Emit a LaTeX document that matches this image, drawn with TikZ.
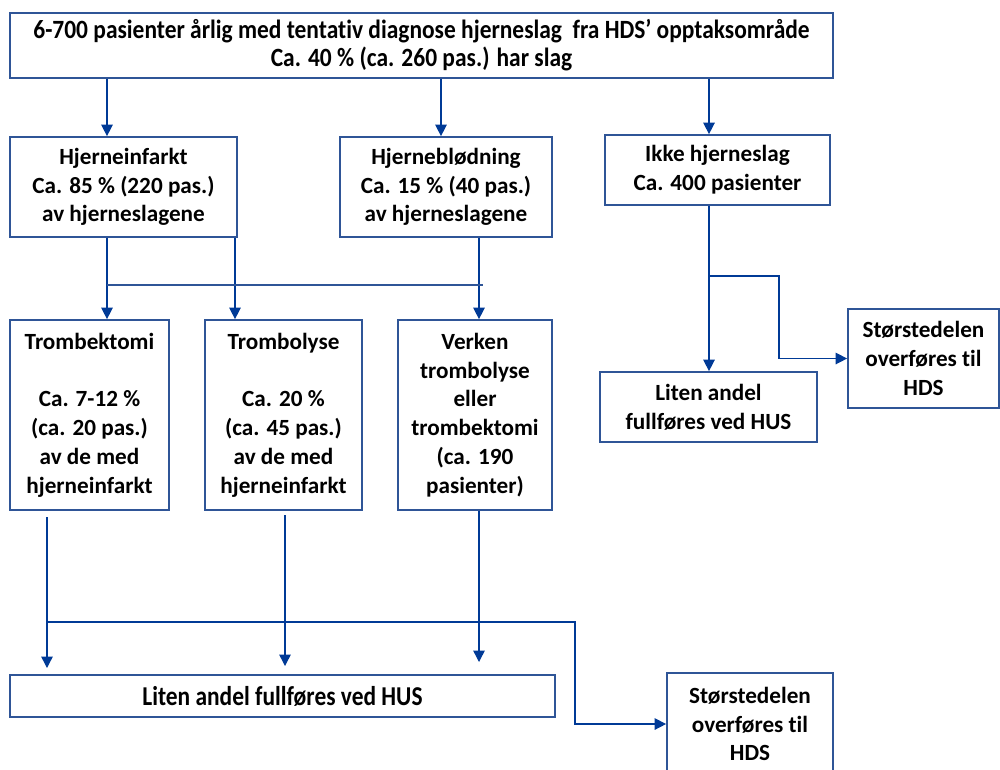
\documentclass[tikz,border=0pt]{standalone}
\usepackage{fontspec}
\setmainfont{Carlito}[Ligatures={NoCommon}]
\newfontfamily\condfont{Carlito}[FakeStretch=0.89,Ligatures={NoCommon}]
\newfontfamily\condfontb{Carlito}[FakeStretch=0.86,Ligatures={NoCommon}]
\usetikzlibrary{arrows.meta}
\definecolor{boxc}{HTML}{2F5597}
\definecolor{lightc}{HTML}{7F9FD6}
\definecolor{darkc}{HTML}{2F5597}
\definecolor{tipc}{HTML}{003A96}
\newcommand\uu{0.02cm}
\tikzset{
  box/.style={draw=boxc, line width=1pt, rectangle, inner sep=0pt, align=center,
    font=\bfseries\fontsize{13.2}{16.4}\selectfont},
  condbox/.style={box, font=\condfont\bfseries\fontsize{15}{16}\selectfont},
  arr/.style={-{Triangle[width=6.5pt,length=6.5pt,fill=tipc]}, tipc},
  lt/.style={draw=lightc, line width=0.8pt, arr},
  dk/.style={draw=darkc, line width=0.8pt, arr},
  hl/.style={draw=darkc, line width=0.8pt},
}
\begin{document}
\begin{tikzpicture}[x=0.02cm,y=-0.02cm]
\useasboundingbox (0,0) rectangle (1000,769);
\node[condbox, minimum width={823*\uu}, minimum height={65*\uu}] (top) at (421.5,45.5)
  {6-700 pasienter årlig med tentativ diagnose hjerneslag\ \ fra HDS’ opptaksområde\\Ca. 40 \% (ca. 260 pas.) har slag};
\node[box, minimum width={227*\uu}, minimum height={100*\uu}] (inf) at (123.5,187)
  {Hjerneinfarkt\\Ca. 85 \% (220 pas.)\\av hjerneslagene};
\node[box, minimum width={212*\uu}, minimum height={100*\uu}] (blod) at (446,187)
  {Hjerneblødning\\Ca. 15 \% (40 pas.)\\av hjerneslagene};
\node[box, minimum width={225*\uu}, minimum height={70*\uu}] (ikke) at (717.5,170)
  {Ikke hjerneslag\\Ca. 400 pasienter};
\node[box, minimum width={159*\uu}, minimum height={190*\uu}] (tbek) at (89.5,415)
  {Trombektomi\\[16.4pt]Ca. 7-12 \%\\(ca. 20 pas.)\\av de med\\hjerneinfarkt};
\node[box, minimum width={157*\uu}, minimum height={190*\uu}] (tlys) at (283.5,415)
  {Trombolyse\\[16.4pt]Ca. 20 \%\\(ca. 45 pas.)\\av de med\\hjerneinfarkt};
\node[box, minimum width={154*\uu}, minimum height={190*\uu}] (verk) at (475,415)
  {Verken\\trombolyse\\eller\\trombektomi\\(ca. 190\\pasienter)};
\node[box, minimum width={217*\uu}, minimum height={70*\uu}] (litenR) at (708.5,407)
  {Liten andel\\fullføres ved HUS};
\node[box, minimum width={151*\uu}, minimum height={99*\uu}] (storR) at (923.5,358.5)
  {Størstedelen\\overføres til\\HDS};
\node[box, font=\condfontb\bfseries\fontsize{15.5}{16}\selectfont,
  minimum width={545*\uu}, minimum height={42*\uu}] (litenB) at (282.5,696)
  {Liten andel fullføres ved HUS};
\node[box, minimum width={166*\uu}, minimum height={102*\uu}] (storB) at (750,724)
  {Størstedelen\\overføres til\\HDS};
% top connectors
\draw[lt] (107,0 |- top.south) -- (107,0 |- inf.north);
\draw[lt] (441,0 |- top.south) -- (441,0 |- blod.north);
\draw[dk] (709,0 |- top.south) -- (709,0 |- ikke.north);
% middle
\draw[lt] (107,0 |- inf.south) -- (107,0 |- tbek.north);
\draw[lt] (235,0 |- inf.south) -- (235,0 |- tlys.north);
\draw[lt] (479,0 |- blod.south) -- (479,0 |- verk.north);
\coordinate (h1) at (107,285);
\coordinate (h2) at (483,285);
\draw[hl] (h1) -- (h2);
% right branch
\draw[dk] (709,0 |- ikke.south) -- (709,0 |- litenR.north);
\coordinate (r1) at (709,276);
\coordinate (r2) at (779,276);
\draw[dk] (r1) -- (r2) |- (storR.west);
% bottom
\coordinate (b1) at (47,517);
\coordinate (b1e) at (47,668);
\coordinate (b2) at (285,515);
\coordinate (b2e) at (285,666);
\coordinate (b3e) at (479,662);
\draw[dk] (b1) -- (b1e);
\draw[dk] (b2) -- (b2e);
\draw[lt] (479,0 |- verk.south) -- (b3e);
\coordinate (c1) at (47,622);
\coordinate (c2) at (575,622);
\draw[dk] (c1) -- (c2) |- (storB.west);
\end{tikzpicture}
\end{document}
